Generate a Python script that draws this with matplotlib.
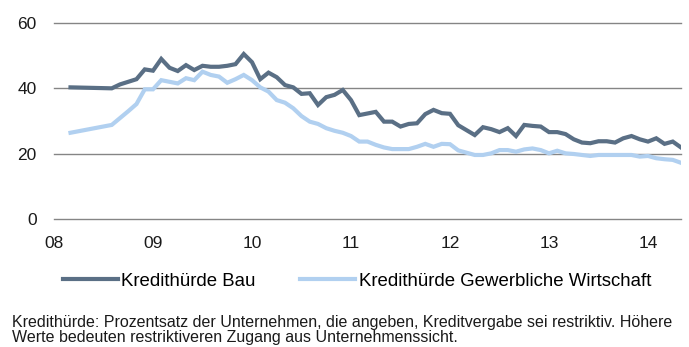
import matplotlib
matplotlib.use("Agg")
import matplotlib.pyplot as plt
import numpy as np

plt.rcParams['font.family'] = ['Liberation Sans', 'DejaVu Sans']

# Survey months, counted from January 2008 (0 = Jan 2008)
months = [2] + list(range(7, 77))

bau = [40.3, 40.0, 41.2, 42.0, 42.8, 45.8, 45.4, 49.0, 46.3, 45.3,
       47.1, 45.6, 46.9, 46.6, 46.6, 46.9, 47.4, 50.5, 48.0, 42.8,
       44.8, 43.4, 41.0, 40.3, 38.3, 38.5, 34.9, 37.3, 38.0, 39.5,
       36.4, 31.8, 32.3, 32.8, 29.8, 29.8, 28.3, 29.1, 29.3, 32.1,
       33.4, 32.4, 32.2, 28.7, 27.2, 25.7, 28.1, 27.5, 26.6, 27.8,
       25.4, 28.8, 28.5, 28.3, 26.6, 26.6, 26.0, 24.4, 23.4, 23.2,
       23.8, 23.8, 23.4, 24.7, 25.4, 24.4, 23.7, 24.7, 23.0, 23.7,
       21.9]

gewerbe = [26.4, 28.8, 30.9, 33.0, 35.2, 39.7, 39.7, 42.5, 42.0, 41.5,
           43.1, 42.5, 45.1, 44.1, 43.6, 41.7, 42.8, 44.1, 42.5, 40.3,
           39.0, 36.4, 35.6, 33.9, 31.5, 29.8, 29.1, 27.8, 27.0, 26.4,
           25.4, 23.7, 23.7, 22.7, 21.9, 21.4, 21.4, 21.4, 22.1, 23.0,
           22.1, 23.0, 22.9, 21.0, 20.3, 19.6, 19.6, 20.1, 21.1, 21.1,
           20.6, 21.3, 21.6, 21.1, 20.1, 20.9, 20.1, 19.9, 19.6, 19.3,
           19.6, 19.6, 19.6, 19.6, 19.6, 19.1, 19.3, 18.6, 18.3, 18.1,
           17.2]

year_ticks = [0, 12, 24, 36, 48, 60, 72]
year_labels = ["08", "09", "10", "11", "12", "13", "14"]
y_ticks = [0, 20, 40, 60]

label_bau = "Kredithürde Bau"
label_gew = "Kredithürde Gewerbliche Wirtschaft"
note = ("Kredithürde: Prozentsatz der Unternehmen, die angeben, Kreditvergabe sei restriktiv. Höhere\n"
        "Werte bedeuten restriktiveren Zugang aus Unternehmenssicht.")

c_dark = "#5a6f85"
c_light = "#b1d0f0"

fig = plt.figure(figsize=(6.89, 3.47), dpi=100)
ax = fig.add_axes([54 / 689, 1 - 219 / 347, 627 / 689, 196 / 347])

x = np.array(months, dtype=float)
ax.plot(x, bau, color=c_dark, lw=3.0, solid_joinstyle='miter', label=label_bau, zorder=3)
ax.plot(x, gewerbe, color=c_light, lw=3.0, solid_joinstyle='miter', label=label_gew, zorder=2)

ax.set_xlim(0, 76)
ax.set_ylim(0, 60)
ax.set_xticks(year_ticks)
ax.set_xticklabels(year_labels)
ax.set_yticks(y_ticks)
ax.yaxis.grid(True, color="#858585", lw=1.0)
for gl in ax.get_ygridlines():
    gl.set_clip_on(False)
ax.set_axisbelow(True)
for s in ax.spines.values():
    s.set_visible(False)
ax.tick_params(axis='both', length=0, labelsize=12.5, colors="#1a1a1a")
ax.tick_params(axis='x', pad=12)
ax.tick_params(axis='y', pad=12.5)

fig.legend(loc='center', bbox_to_anchor=(357 / 689, 1 - 281 / 347), ncol=2, frameon=False,
           fontsize=13.4, handlelength=2.95, handletextpad=0.2, columnspacing=2.4)

fig.text(12 / 689, 1 - 315 / 347, note, fontsize=11.5, va='top', ha='left',
         color="#1a1a1a", linespacing=1.0)

fig.savefig("out.png", dpi=100)
